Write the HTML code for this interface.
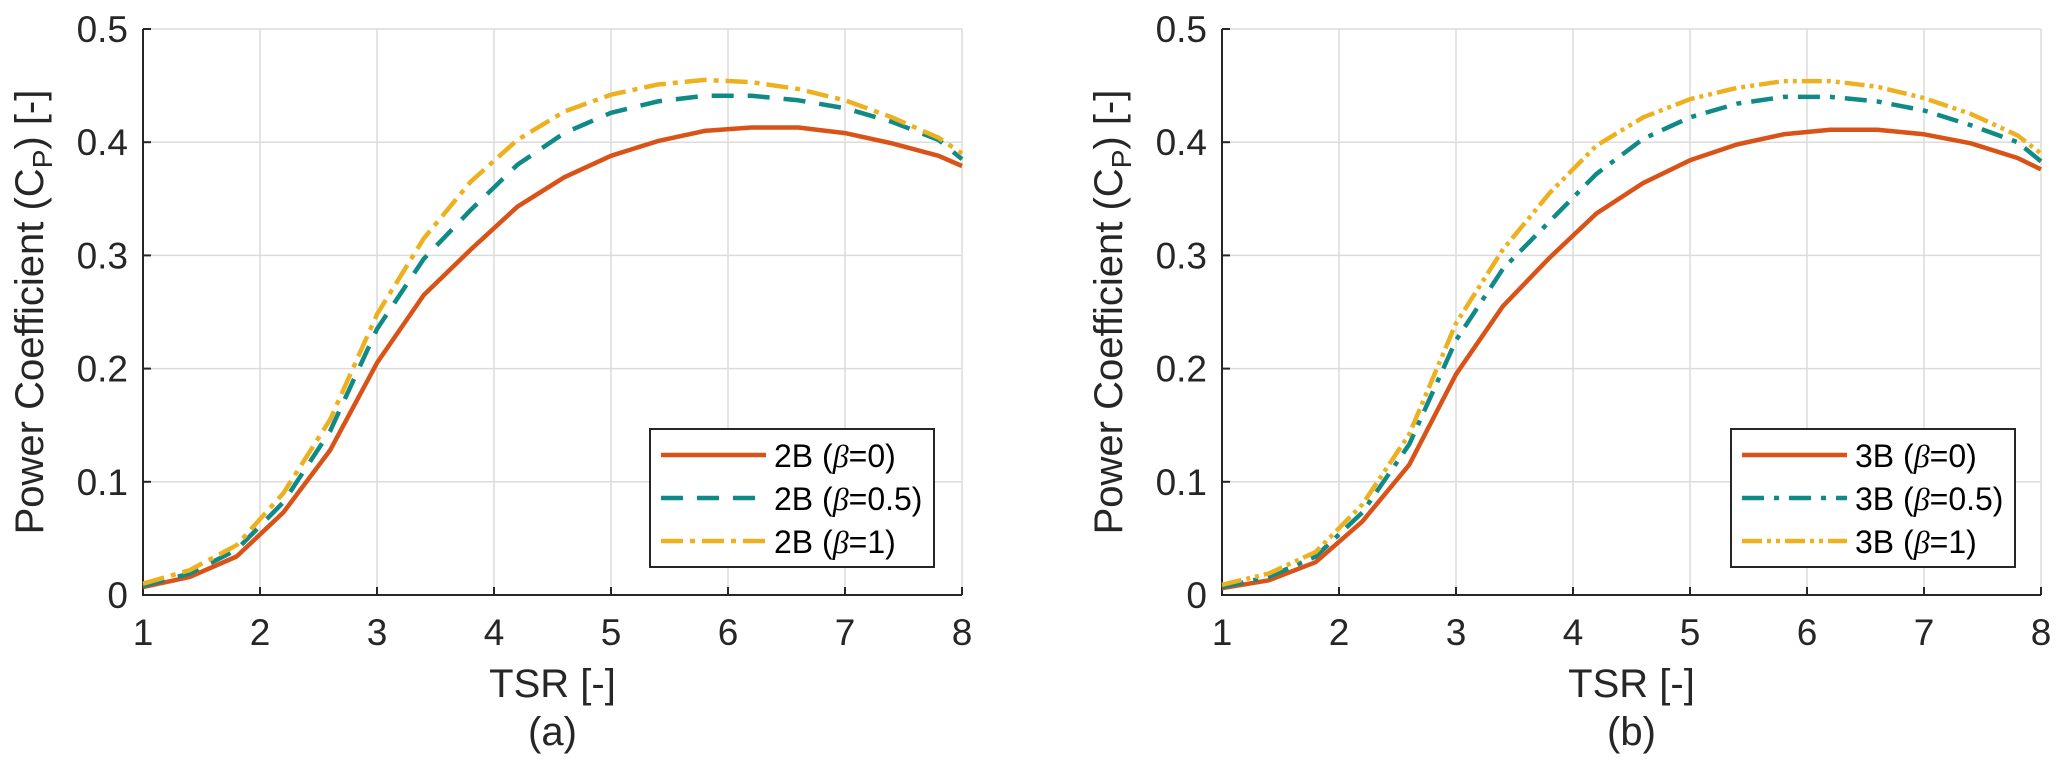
<!DOCTYPE html>
<html><head><meta charset="utf-8"><style>
html,body{margin:0;padding:0;background:#fff;}
svg{display:block;font-family:"Liberation Sans",Arial,sans-serif;}
</style></head><body>
<svg id="fig" width="2067" height="769" viewBox="0 0 2067 769" xmlns="http://www.w3.org/2000/svg"></svg>
<script>
const tsr = [1,1.4,1.8,2.2,2.6,3.0,3.4,3.8,4.2,4.6,5.0,5.4,5.8,6.2,6.6,7.0,7.4,7.8,8];
const a_b0 = [0.007,0.016,0.034,0.073,0.128,0.205,0.265,0.305,0.343,0.369,0.388,0.401,0.410,0.413,0.413,0.408,0.399,0.388,0.379];
const a_b05 = [0.008,0.019,0.040,0.082,0.145,0.235,0.297,0.340,0.380,0.408,0.426,0.436,0.441,0.441,0.437,0.430,0.418,0.402,0.385];
const a_b1 = [0.010,0.022,0.044,0.090,0.155,0.248,0.315,0.365,0.402,0.427,0.442,0.451,0.455,0.453,0.447,0.437,0.422,0.404,0.390];
const b_b0 = [0.006,0.013,0.029,0.065,0.115,0.195,0.255,0.298,0.337,0.364,0.384,0.398,0.407,0.411,0.411,0.407,0.399,0.386,0.376];
const b_b05 = [0.007,0.016,0.034,0.073,0.133,0.225,0.288,0.330,0.372,0.403,0.422,0.434,0.440,0.440,0.436,0.428,0.415,0.400,0.383];
const b_b1 = [0.009,0.019,0.038,0.080,0.142,0.240,0.305,0.355,0.397,0.422,0.438,0.448,0.454,0.454,0.449,0.439,0.425,0.406,0.390];
const xTicks = [1,2,3,4,5,6,7,8];
const yTicks = [0,0.1,0.2,0.3,0.4,0.5];
const yTickLabels = ["0","0.1","0.2","0.3","0.4","0.5"];

const NS = "http://www.w3.org/2000/svg";
const svg = document.getElementById('fig');
function mk(tag, attrs, parent, text){
  const e = document.createElementNS(NS, tag);
  for (const k in attrs) e.setAttribute(k, attrs[k]);
  if (text !== undefined) e.textContent = text;
  (parent||svg).appendChild(e);
  return e;
}
const colors = ["#D95319","#0F8A87","#EDB120"];

function panel(id, x0, x1, prefix, series, dashes, legendX, caption){
  const y0 = 595, y1 = 29;
  const sx = v => x0 + (v-1)/7*(x1-x0);
  const sy = v => y0 - v/0.5*(y0-y1);
  const g = mk('g', {});
  
  
  // grid
  xTicks.forEach(t=>{
    const l = mk('line',{x1:sx(t),x2:sx(t),y1:y1,y2:y0,stroke:'#dcdcdc','stroke-width':1.5},g);
    
    
  });
  yTicks.forEach(t=>{
    const l = mk('line',{x1:x0,x2:x1,y1:sy(t),y2:sy(t),stroke:'#dcdcdc','stroke-width':1.5},g);
    
    
  });
  // axes
  const ax = mk('path',{d:`M${x0},${y1} V${y0} H${x1}`,fill:'none',stroke:'#262626','stroke-width':2},g);
  
  
  xTicks.forEach(t=>{
    mk('line',{x1:sx(t),x2:sx(t),y1:y0,y2:y0-8,stroke:'#262626','stroke-width':2},g);
    const tl = mk('text',{x:sx(t),y:y0+50,'font-size':37,'text-anchor':'middle',fill:'#262626'},g,String(t));
    
    
  });
  yTicks.forEach((t,i)=>{
    mk('line',{x1:x0,x2:x0+8,y1:sy(t),y2:sy(t),stroke:'#262626','stroke-width':2},g);
    const tl = mk('text',{x:x0-15,y:sy(t)+13,'font-size':37,'text-anchor':'end',fill:'#262626'},g,yTickLabels[i]);
    
    
  });
  // series
  series.forEach((s,i)=>{
    const d = tsr.map((v,j)=>(j?'L':'M')+sx(v).toFixed(1)+','+sy(s[j]).toFixed(1)).join(' ');
    const p = mk('path',{d:d,fill:'none',stroke:colors[i],'stroke-width':4.5,'stroke-dasharray':dashes[i],'stroke-linejoin':'round'},g);
    
    
  });
  // axis titles
  const xt = mk('text',{x:(x0+x1)/2,y:697,'font-size':40,'text-anchor':'middle',fill:'#262626'},g,'TSR [-]');
  
  
  const yt = mk('text',{transform:`translate(${x0-100},${(y0+y1)/2}) rotate(-90)`,'font-size':40,'text-anchor':'middle',fill:'#262626'},g);
  
  
  yt.appendChild(document.createTextNode('Power Coefficient (C'));
  mk('tspan',{'font-size':28,dy:9},yt,'P');
  mk('tspan',{dy:-9},yt,') [-]');
  const cap = mk('text',{x:(x0+x1)/2,y:745,'font-size':40,'text-anchor':'middle',fill:'#262626'},g,caption);
  
  
  // legend
  const lg = mk('g',{},g);
  
  
  mk('rect',{x:legendX,y:429,width:284,height:138,fill:'#fff',stroke:'#262626','stroke-width':2},lg);
  const labels = ['0','0.5','1'];
  labels.forEach((lab,i)=>{
    const yy = 455 + i*43;
    const e = mk('g',{},lg);
    
    
    mk('line',{x1:legendX+11,x2:legendX+116,y1:yy,y2:yy,stroke:colors[i],'stroke-width':4.5,'stroke-dasharray':dashes[i]},e);
    const t = mk('text',{x:legendX+124,y:yy+12,'font-size':32,fill:'#000'},e);
    t.appendChild(document.createTextNode(prefix+' ('));
    mk('tspan',{'font-style':'italic','font-family':'"Liberation Serif",serif'},t,'β');
    t.appendChild(document.createTextNode('='+lab+')'));
  });
}
panel('a',143,962,'2B',[a_b0,a_b05,a_b1],['none','22 14','22 7 5 7'],650,'(a)');
panel('b',1222,2041,'3B',[b_b0,b_b05,b_b1],['none','22 10 5 10','20 5 4 5 4 5'],1731,'(b)');
</script>
</body></html>
